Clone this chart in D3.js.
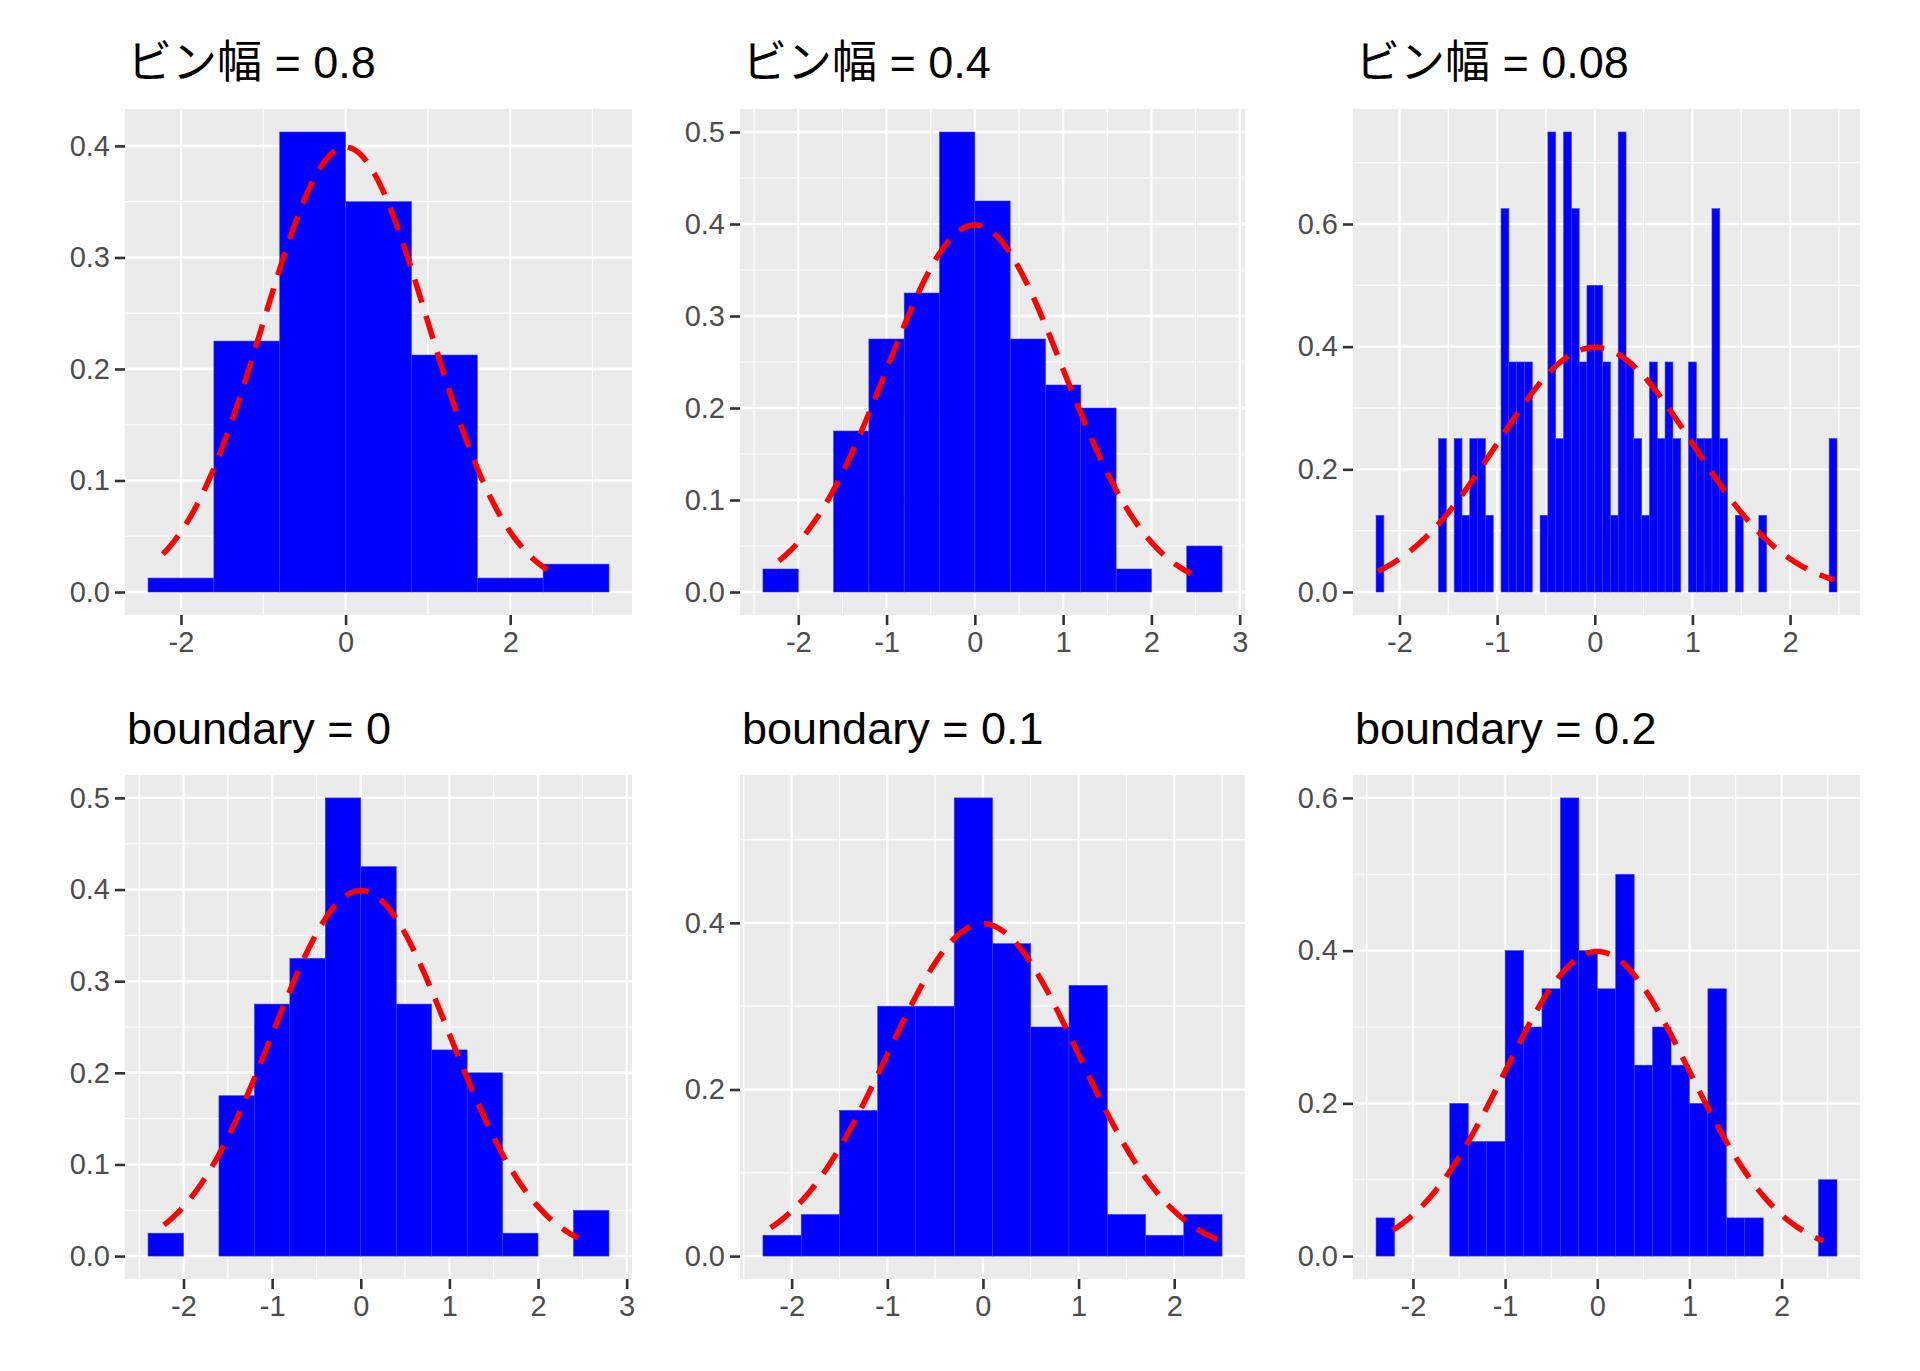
<!DOCTYPE html>
<html><head><meta charset="utf-8">
<script src="https://cdn.jsdelivr.net/npm/d3@7"></script>
<style>body{margin:0;background:#fff}</style></head>
<body><svg id="c" width="1920" height="1371"></svg>
<script>
const titles = ["ビン幅 = 0.8","ビン幅 = 0.4","ビン幅 = 0.08","boundary = 0","boundary = 0.1","boundary = 0.2"];
const binStart = [-2.4, -2.4, -2.24, -2.4, -2.3, -2.4];
const binWidth = [0.8, 0.4, 0.08, 0.4, 0.4, 0.2];
const h1 = [0.0125,0.225,0.4125,0.35,0.2125,0.0125,0.025];
const h2 = [0.025,0,0.175,0.275,0.325,0.5,0.425,0.275,0.225,0.2,0.025,0,0.05];
const h3 = [0.125,0,0,0,0,0,0,0,0.25,0,0.25,0.125,0.25,0.25,0.125,0,0.625,0.375,0.375,0.375,0,0.125,0.75,0.25,0.75,0.625,0.375,0.5,
            0.5,0.375,0.125,0.75,0.375,0.25,0.125,0.375,0.25,0.375,0.25,0,0.375,0.25,0.25,0.625,0.25,0,0.125,0,0,0.125,0,0,0,0,0,0,0,0,0.25];
const h4 = [0.025,0,0.175,0.275,0.325,0.5,0.425,0.275,0.225,0.2,0.025,0,0.05];
const h5 = [0.025,0.05,0.175,0.3,0.3,0.55,0.375,0.275,0.325,0.05,0.025,0.05];
const h6 = [0.05,0,0,0,0.2,0.15,0.15,0.4,0.3,0.35,0.6,0.4,0.35,0.5,0.25,0.3,0.25,0.2,0.35,0.05,0.05,0,0,0,0.1];
const heights = [h1,h2,h3,h4,h5,h6];
const xTicks = [[-2,0,2],[-2,-1,0,1,2,3],[-2,-1,0,1,2],[-2,-1,0,1,2,3],[-2,-1,0,1,2],[-2,-1,0,1,2]];
const yTicks = [[0,0.1,0.2,0.3,0.4],[0,0.1,0.2,0.3,0.4,0.5],[0,0.2,0.4,0.6],[0,0.1,0.2,0.3,0.4,0.5],[0,0.2,0.4],[0,0.2,0.4,0.6]];
const curveRange = [-2.22, 2.45];

const cols = [[125,632],[740,1245],[1353,1860]];
const rows = [[109,615],[775,1279]];
const svg = d3.select("#c");
const dnorm = x => Math.exp(-x*x/2)/Math.sqrt(2*Math.PI);
const fmt = v => v.toFixed(1);
const fmtX = v => d3.format("d")(v).replace("−","-");

heights.forEach((hs,i)=>{
  const [x0,x1] = cols[i%3], [y0,y1] = rows[Math.floor(i/3)];
  const lo = binStart[i], hi = binStart[i]+binWidth[i]*hs.length;
  const xr = hi-lo, ymax = d3.max(hs);
  const x = d3.scaleLinear().domain([lo-0.05*xr, hi+0.05*xr]).range([x0,x1]);
  const y = d3.scaleLinear().domain([-0.05*ymax, ymax*1.05]).range([y1,y0]);
  const g = svg.append("g");
  g.append("rect").attr("x",x0).attr("y",y0).attr("width",x1-x0).attr("height",y1-y0).attr("fill","#ebebeb");
  const minors = (t, dom) => {
    const s = t[1]-t[0], out=[];
    for (let k=-1;k<t.length;k++){ const v=t[0]+s*(k+0.5); if(v>=dom[0]&&v<=dom[1]) out.push(v);} return out;
  };
  minors(xTicks[i], x.domain()).forEach(v=>g.append("line").attr("x1",x(v)).attr("x2",x(v)).attr("y1",y0).attr("y2",y1).attr("stroke","#fff").attr("stroke-width",1.2));
  minors(yTicks[i], y.domain()).forEach(v=>g.append("line").attr("y1",y(v)).attr("y2",y(v)).attr("x1",x0).attr("x2",x1).attr("stroke","#fff").attr("stroke-width",1.2));
  xTicks[i].forEach(v=>g.append("line").attr("x1",x(v)).attr("x2",x(v)).attr("y1",y0).attr("y2",y1).attr("stroke","#fff").attr("stroke-width",2.4));
  yTicks[i].forEach(v=>g.append("line").attr("y1",y(v)).attr("y2",y(v)).attr("x1",x0).attr("x2",x1).attr("stroke","#fff").attr("stroke-width",2.4));
  g.selectAll("rect.bar").data(hs.map((h,k)=>({h,k})).filter(d=>d.h>0)).join("rect").attr("class","bar")
    .attr("x",d=>x(lo+d.k*binWidth[i])).attr("width",d=>x(lo+(d.k+1)*binWidth[i])-x(lo+d.k*binWidth[i]))
    .attr("y",d=>y(d.h)).attr("height",d=>y(0)-y(d.h)).attr("fill","#0000ff").attr("stroke","#3a3aff").attr("stroke-width",0.6);
  const pts = d3.range(101).map(j=>curveRange[0]+(curveRange[1]-curveRange[0])*j/100);
  g.append("path").attr("d",d3.line().x(v=>x(v)).y(v=>y(dnorm(v)))(pts)).attr("fill","none")
    .attr("stroke","#ff0000").attr("stroke-width",5.5).attr("stroke-dasharray","24,14");
  // axes
  const xa = g.append("g").attr("transform",`translate(0,${y1})`).call(d3.axisBottom(x).tickValues(xTicks[i]).tickSize(10).tickPadding(6).tickFormat(fmtX));
  const ya = g.append("g").attr("transform",`translate(${x0},0)`).call(d3.axisLeft(y).tickValues(yTicks[i]).tickSize(10).tickPadding(5).tickFormat(fmt));
  [xa,ya].forEach(a=>{a.select(".domain").remove();a.selectAll("line").attr("stroke","#333").attr("stroke-width",2.6);
    a.selectAll("text").attr("fill","#4d4d4d").style("font-size","29px").style("font-family","Liberation Sans, Arial, sans-serif");});
  svg.append("text").attr("x",x0+2).attr("y",y0-31).text(titles[i])
    .style("font-size","45px").style("font-family","Liberation Sans, 'Noto Sans CJK JP', sans-serif").attr("fill","#000");
});
</script></body></html>
